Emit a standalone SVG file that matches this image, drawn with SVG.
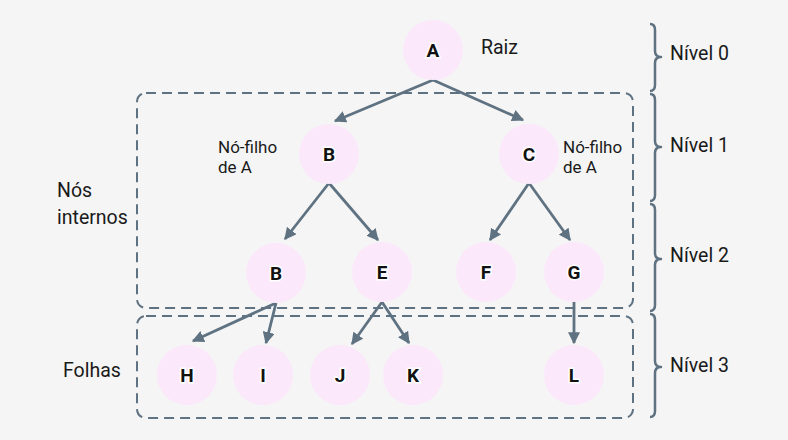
<svg xmlns="http://www.w3.org/2000/svg" width="788" height="440" viewBox="0 0 788 440">
  <style>
    .node circle { fill: #fce8fb; }
    .node text { font-family: Roboto, "Liberation Sans", sans-serif; font-weight: bold; font-size: 19px; fill: #111; text-anchor: middle; stroke: #ffffff; stroke-width: 3; paint-order: stroke; }
    .edge { stroke: #5f7282; stroke-width: 2.8; fill: none; marker-end: url(#arrow); }
    .group { fill: none; stroke: #5f7282; stroke-width: 2; stroke-dasharray: 10 6; }
    .brace { fill: none; stroke: #5f7282; stroke-width: 2.5; stroke-linejoin: round; }
    .label { font-family: Roboto, "Liberation Sans", sans-serif; font-size: 19.5px; fill: #1a1a1a; }
    .small { font-size: 17px; }
  </style>
  <defs>
    <marker id="arrow" viewBox="0 0 10 10" refX="9" refY="5" markerWidth="4.3" markerHeight="4.3" orient="auto" markerUnits="strokeWidth">
      <path d="M0,0 L10,5 L0,10 z" fill="#5f7282"/>
    </marker>
  </defs>
  <rect width="788" height="440" fill="#f5f5f5"/>

  <!-- dashed groupings -->
  <rect class="group" x="137" y="93" width="496" height="215" rx="9"/>
  <rect class="group" x="137" y="316" width="496" height="102" rx="9"/>

  <!-- level braces -->
  <g id="braces">
    <path class="brace" d="M650 24 Q655 24 655 30 L655 51 Q655 57 661 57 Q655 57 655 63 L655 85 Q655 91 650 91"/>
    <path class="brace" d="M650 94 Q655 94 655 100 L655 141 Q655 147 661 147 Q655 147 655 153 L655 195 Q655 201 650 201"/>
    <path class="brace" d="M650 204 Q655 204 655 210 L655 253 Q655 259 661 259 Q655 259 655 265 L655 305 Q655 311 650 311"/>
    <path class="brace" d="M650 314 Q655 314 655 320 L655 361 Q655 367 661 367 Q655 367 655 373 L655 411 Q655 417 650 417"/>
  </g>

  <g id="connectors">
    <line class="edge" x1="433" y1="80" x2="335" y2="121"/>
    <line class="edge" x1="433" y1="80" x2="523" y2="120"/>
    <line class="edge" x1="329" y1="183" x2="285" y2="239"/>
    <line class="edge" x1="329" y1="183" x2="378" y2="240"/>
    <line class="edge" x1="529" y1="183" x2="490" y2="240"/>
    <line class="edge" x1="529" y1="183" x2="570" y2="240"/>
    <line class="edge" x1="276" y1="303" x2="193" y2="341"/>
    <line class="edge" x1="276" y1="303" x2="266" y2="343"/>
    <line class="edge" x1="382" y1="302" x2="352" y2="344"/>
    <line class="edge" x1="382" y1="302" x2="409" y2="343"/>
    <line class="edge" x1="574" y1="302" x2="574" y2="343"/>
  </g>

  <g id="node-A" class="node"><circle cx="433" cy="50" r="30"/><text x="433" y="57">A</text></g>
  <g id="node-B" class="node"><circle cx="329" cy="154" r="30"/><text x="329" y="161">B</text></g>
  <g id="node-C" class="node"><circle cx="529" cy="154" r="30"/><text x="529" y="161">C</text></g>
  <g id="node-B2" class="node"><circle cx="276" cy="273" r="30"/><text x="276" y="280">B</text></g>
  <g id="node-E" class="node"><circle cx="382" cy="272" r="30"/><text x="382" y="279">E</text></g>
  <g id="node-F" class="node"><circle cx="486" cy="272" r="30"/><text x="486" y="279">F</text></g>
  <g id="node-G" class="node"><circle cx="574" cy="272" r="30"/><text x="574" y="279">G</text></g>
  <g id="node-H" class="node"><circle cx="187" cy="375" r="30"/><text x="187" y="382">H</text></g>
  <g id="node-I" class="node"><circle cx="263" cy="375" r="30"/><text x="263" y="382">I</text></g>
  <g id="node-J" class="node"><circle cx="340" cy="375" r="30"/><text x="340" y="382">J</text></g>
  <g id="node-K" class="node"><circle cx="413" cy="375" r="30"/><text x="413" y="382">K</text></g>
  <g id="node-L" class="node"><circle cx="574" cy="375" r="30"/><text x="574" y="382">L</text></g>

  <!-- annotations -->
  <text class="label" x="481" y="54">Raiz</text>
  <text class="label small" x="218" y="153">Nó-filho</text>
  <text class="label small" x="218" y="173">de A</text>
  <text class="label small" x="563" y="153">Nó-filho</text>
  <text class="label small" x="563" y="173">de A</text>
  <text class="label" x="57" y="197">Nós</text>
  <text class="label" x="57" y="224">internos</text>
  <text class="label" x="63" y="377">Folhas</text>
  <text class="label" x="670" y="60">Nível 0</text>
  <text class="label" x="670" y="152">Nível 1</text>
  <text class="label" x="670" y="262">Nível 2</text>
  <text class="label" x="670" y="372">Nível 3</text>
</svg>
